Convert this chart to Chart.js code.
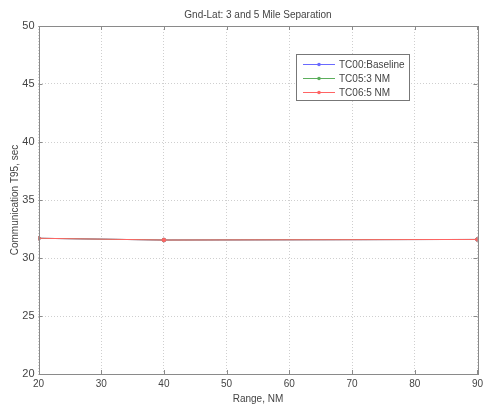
<!DOCTYPE html>
<html><head><meta charset="utf-8">
<script src="https://cdn.jsdelivr.net/npm/chart.js@4"></script>
<style>html,body{margin:0;padding:0;background:#fff;}canvas{display:block;}</style>
</head><body>
<canvas id="c" width="487" height="405"></canvas>
<script>
const rangeNM = [20, 40, 90];
const tc00 = [31.7, 31.55, 31.6];
const tc05 = [31.7, 31.55, 31.6];
const tc06 = [31.7, 31.55, 31.6];
const seriesNames = ['TC00:Baseline', 'TC05:3 NM', 'TC06:5 NM'];
const seriesColors = ['#6a6aff', '#5cae5c', '#ff6464'];
const xTicks = [20, 30, 40, 50, 60, 70, 80, 90];
const yTicks = [20, 25, 30, 35, 40, 45, 50];
const titleText = 'Gnd-Lat: 3 and 5 Mile Separation';
const xTitle = 'Range, NM';
const yTitle = 'Communication T95, sec';

const FONT = '"Liberation Sans", Arial, sans-serif';
const TXT = '#444';

const mk = (vals, i) => ({
  label: seriesNames[i],
  data: rangeNM.map((x, k) => ({x, y: vals[k]})),
  borderColor: seriesColors[i],
  backgroundColor: seriesColors[i],
  borderWidth: 1,
  pointStyle: 'circle',
  pointRadius: 1.8,
  pointBorderWidth: 1,
  tension: 0,
  order: 3 - i
});

const matlabPlugin = {
  id: 'matlab',
  afterDraw(chart) {
    const ctx = chart.ctx, a = chart.chartArea;
    const xs = chart.scales.x, ys = chart.scales.y;
    ctx.save();
    ctx.strokeStyle = '#8a8a8a';
    ctx.lineWidth = 1;
    ctx.strokeRect(Math.round(a.left) + 0.5, Math.round(a.top) + 0.5, Math.round(a.right - a.left), Math.round(a.bottom - a.top));
    ctx.beginPath();
    xTicks.forEach(v => {
      const px = Math.round(xs.getPixelForValue(v)) + 0.5;
      ctx.moveTo(px, a.bottom); ctx.lineTo(px, a.bottom - 4);
      ctx.moveTo(px, a.top); ctx.lineTo(px, a.top + 4);
    });
    yTicks.forEach(v => {
      const py = Math.round(ys.getPixelForValue(v)) + 0.5;
      ctx.moveTo(a.left, py); ctx.lineTo(a.left + 4, py);
      ctx.moveTo(a.right, py); ctx.lineTo(a.right - 4, py);
    });
    ctx.stroke();
    ctx.fillStyle = TXT;
    ctx.font = '10px ' + FONT;
    ctx.textAlign = 'center';
    ctx.textBaseline = 'middle';
    ctx.fillText(titleText, (a.left + a.right) / 2, 15);
    const lx = 296, ly = 54, lw = 113, lh = 46;
    ctx.fillStyle = '#fff';
    ctx.fillRect(lx, ly, lw, lh);
    ctx.strokeStyle = '#777';
    ctx.strokeRect(lx + 0.5, ly + 0.5, lw, lh);
    chart.data.datasets.forEach((ds, i) => {
      const y = ly + 10 + i * 14;
      ctx.strokeStyle = ds.borderColor;
      ctx.fillStyle = ds.borderColor;
      ctx.beginPath();
      ctx.moveTo(303, y + 0.5); ctx.lineTo(335, y + 0.5);
      ctx.stroke();
      ctx.beginPath();
      ctx.arc(319, y + 0.5, 1.8, 0, Math.PI * 2);
      ctx.fill();
      ctx.fillStyle = TXT;
      ctx.font = '10px ' + FONT;
      ctx.textAlign = 'left';
      ctx.textBaseline = 'middle';
      ctx.fillText(ds.label, 339, y + 1);
    });
    ctx.restore();
  }
};

new Chart(document.getElementById('c'), {
  type: 'line',
  data: { datasets: [mk(tc00, 0), mk(tc05, 1), mk(tc06, 2)] },
  options: {
    responsive: false,
    animation: false,
    devicePixelRatio: 1,
    layout: { padding: { top: 26, right: 6, left: 0, bottom: 0 } },
    plugins: { legend: { display: false }, title: { display: false }, tooltip: { enabled: false } },
    scales: {
      x: {
        type: 'linear', min: 20, max: 90,
        afterBuildTicks: s => { s.ticks = xTicks.map(v => ({value: v})); },
        afterFit: s => { s.height = 31; },
        grid: { color: '#cfcfcf', drawTicks: false, lineWidth: 1 },
        border: { display: false, dash: [1, 2] },
        ticks: { font: { family: FONT, size: 10 }, color: TXT, padding: 4, maxRotation: 0 },
        title: { display: true, text: xTitle, font: { family: FONT, size: 10 }, color: TXT, padding: { top: -2, bottom: 0 } }
      },
      y: {
        type: 'linear', min: 20, max: 50,
        afterBuildTicks: s => { s.ticks = yTicks.map(v => ({value: v})); },
        afterFit: s => { s.width = 38.5; },
        grid: { color: '#cfcfcf', drawTicks: false, lineWidth: 1 },
        border: { display: false, dash: [1, 2] },
        ticks: { font: { family: FONT, size: 11 }, color: TXT, padding: 4 },
        title: { display: true, text: yTitle, font: { family: FONT, size: 10 }, color: TXT, padding: { top: 9, bottom: 0 } }
      }
    }
  },
  plugins: [matlabPlugin]
});
</script>
</body></html>
